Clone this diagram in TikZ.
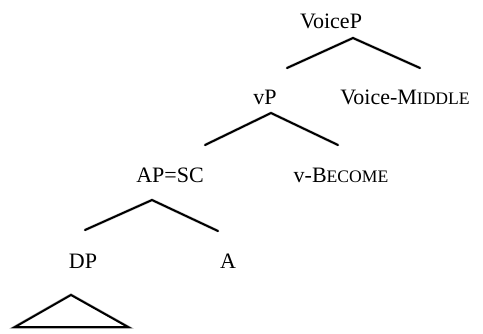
\documentclass[tikz,border=0pt]{standalone}
\usepackage{fontspec}
\setmainfont{Liberation Serif}
\newcommand{\fakesc}[1]{{\fontsize{17.6}{20}\selectfont #1}}
\begin{document}
\begin{tikzpicture}[x=1pt,y=-1pt,
  lab/.style={anchor=base, inner sep=0pt, font=\fontsize{22}{26}\selectfont},
  br/.style={line width=2pt, line cap=round, line join=miter},
  shd/.style={line width=3pt, draw=black!18, line cap=round, shift={(1.5,2)}}]
\useasboundingbox (0,0) rectangle (483,333);
% labels
\node[lab] (voicep) at (331,28) {VoiceP};
\node[lab] (vp) at (265,104) {vP};
\node[lab] (voicemid) at (405,104) {Voice-M\fakesc{IDDLE}};
\node[lab] (apsc) at (170,182) {AP=SC};
\node[lab] (vbec) at (341,182) {v-B\fakesc{ECOME}};
\node[lab] (dp) at (83,268) {DP};
\node[lab] (a) at (228,268) {A};
% branch points
\coordinate (t1) at (353,38);  \coordinate (t1l) at (287,68);  \coordinate (t1r) at (420,68);
\coordinate (t2) at (271,113); \coordinate (t2l) at (205,145); \coordinate (t2r) at (338,145);
\coordinate (t3) at (152,200); \coordinate (t3l) at (85,230);  \coordinate (t3r) at (218,231);
\coordinate (tri) at (71,295); \coordinate (tril) at (15,327); \coordinate (trir) at (128,327);
% shadows
\draw[shd] (t1l) -- (t1) -- (t1r);
\draw[shd] (t2l) -- (t2) -- (t2r);
\draw[shd] (t3l) -- (t3) -- (t3r);
\draw[shd, draw=black!35] (tril) -- (tri) -- (trir) -- cycle;
% branches
\draw[br] (t1l) -- (t1) -- (t1r);
\draw[br] (t2l) -- (t2) -- (t2r);
\draw[br] (t3l) -- (t3) -- (t3r);
\draw[br, fill=white] (tril) -- (tri) -- (trir) -- cycle;
\end{tikzpicture}
\end{document}
